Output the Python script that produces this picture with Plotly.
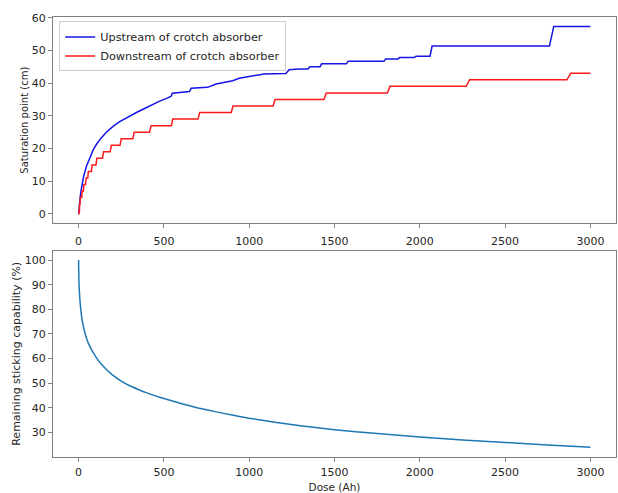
import plotly.graph_objects as go

# ---- data ----
# Downstream (red): stepped levels, each held from start to end dose
red_level = [0, 1, 3, 5, 7, 9, 11, 13, 15, 17, 19, 21, 23, 25, 27, 29, 31, 33, 35, 37, 39, 41, 43]
red_start = [0, 3, 6, 10, 21, 31, 44, 57, 79, 107, 146, 192, 250, 326, 425, 552, 710, 905, 1152, 1452, 1825, 2292, 2885]
red_end = [2, 5, 8, 18, 28, 41, 54, 75, 102, 140, 185, 243, 318, 416, 544, 700, 895, 1140, 1438, 1810, 2272, 2862, 3000]

# Upstream (blue)
blue_dose = [0, 3, 6, 10, 15, 21, 30, 46, 65, 85, 105, 130, 163, 200, 241, 280, 339, 390, 436, 475,
             520, 543, 549, 600, 650, 660, 700, 756, 806, 860, 903, 942, 980, 1020, 1088, 1215, 1234,
             1290, 1345, 1356, 1415, 1425, 1570, 1580, 1790, 1800, 1872, 1882, 1968, 1978, 2060, 2072,
             2760, 2785, 3000]
blue_sat = [0, 2.5, 4, 5.5, 7.3, 9.5, 11.6, 14.6, 17.3, 19.5, 21.3, 23.1, 25.0, 26.7, 28.2, 29.4, 31.0, 32.3, 33.5, 34.5,
            35.4, 36.0, 36.9, 37.1, 37.4, 38.4, 38.5, 38.7, 39.7, 40.2, 40.7, 41.5, 41.8, 42.3, 42.8, 42.9, 44.1,
            44.3, 44.3, 45.0, 45.0, 45.9, 45.9, 46.7, 46.7, 47.4, 47.4, 47.8, 47.8, 48.2, 48.2, 51.3,
            51.3, 57.3, 57.3]

# Remaining sticking capability
cap_dose = [0, 1, 2, 4, 7, 12, 18, 25, 37, 50, 66, 85, 105, 130, 163, 200, 250, 300, 350, 400, 450, 500,
            600, 700, 800, 900, 1000, 1150, 1300, 1500, 1750, 2000, 2250, 2500, 2750, 3000]
cap_val = [100, 95, 91.5, 87.8, 84.5, 80.5, 77, 74, 70.5, 67.5, 65, 62.5, 60.3, 58, 55.6, 53.3, 50.9, 49.0,
           47.5, 46.1, 44.9, 43.8, 41.8, 40.0, 38.5, 37.1, 35.8, 34.2, 32.8, 31.2, 29.6, 28.2, 27.0, 26.0, 25.0, 24.1]

x_ticks = [0, 500, 1000, 1500, 2000, 2500, 3000]

# build step polyline from the level table
red_x, red_y = [], []
for s, e, lv in zip(red_start, red_end, red_level):
    red_x += [s, e]
    red_y += [lv, lv]

FONT = "DejaVu Sans"
fig = go.Figure()
fig.add_trace(go.Scatter(x=blue_dose, y=blue_sat, mode="lines", name="Upstream of crotch absorber",
                         line=dict(color="#1515e8", width=1.5), xaxis="x", yaxis="y"))
fig.add_trace(go.Scatter(x=red_x, y=red_y, mode="lines", name="Downstream of crotch absorber",
                         line=dict(color="#ff1a1a", width=1.5), xaxis="x", yaxis="y"))
fig.add_trace(go.Scatter(x=cap_dose, y=cap_val, mode="lines", showlegend=False,
                         line=dict(color="#1f77b4", width=1.5, shape="spline", smoothing=0.4),
                         xaxis="x2", yaxis="y2"))

axis_common = dict(showline=True, linecolor="#7f7f7f", linewidth=1, mirror=True, showgrid=False,
                   zeroline=False, ticks="outside", ticklen=4, tickcolor="#7f7f7f",
                   tickfont=dict(family=FONT, size=11, color="#262626"))

fig.update_layout(
    width=618, height=493,
    margin=dict(l=53, r=1, t=17, b=32),
    paper_bgcolor="white", plot_bgcolor="white",
    font=dict(family=FONT, color="#262626"),
    xaxis=dict(domain=[0, 1], anchor="y", range=[-150, 3150], tickvals=x_ticks, ticklabelstandoff=3,
               **axis_common),
    yaxis=dict(domain=[0.531, 1], anchor="x", range=[-2.87, 60.2], tickvals=[0, 10, 20, 30, 40, 50, 60],
               title=dict(text="Saturation point (cm)", font=dict(family=FONT, size=10, color="#262626"),
                          standoff=1),
               **axis_common),
    xaxis2=dict(domain=[0, 1], anchor="y2", range=[-150, 3150], tickvals=x_ticks, ticklabelstandoff=1,
                title=dict(text="Dose (Ah)", font=dict(family=FONT, size=10.5, color="#262626"), standoff=5),
                **axis_common),
    yaxis2=dict(domain=[0, 0.469], anchor="x2", range=[20.1, 103.8],
                tickvals=[30, 40, 50, 60, 70, 80, 90, 100],
                title=dict(text="Remaining sticking capability (%)", font=dict(family=FONT, size=11, color="#262626"),
                           standoff=1),
                **axis_common),
    legend=dict(x=0.011, y=0.99, xanchor="left", yanchor="top", bgcolor="white",
                bordercolor="#cccccc", borderwidth=1, font=dict(family=FONT, size=11.3, color="#262626"),
                tracegroupgap=0),
)

fig.write_html("out.html")
